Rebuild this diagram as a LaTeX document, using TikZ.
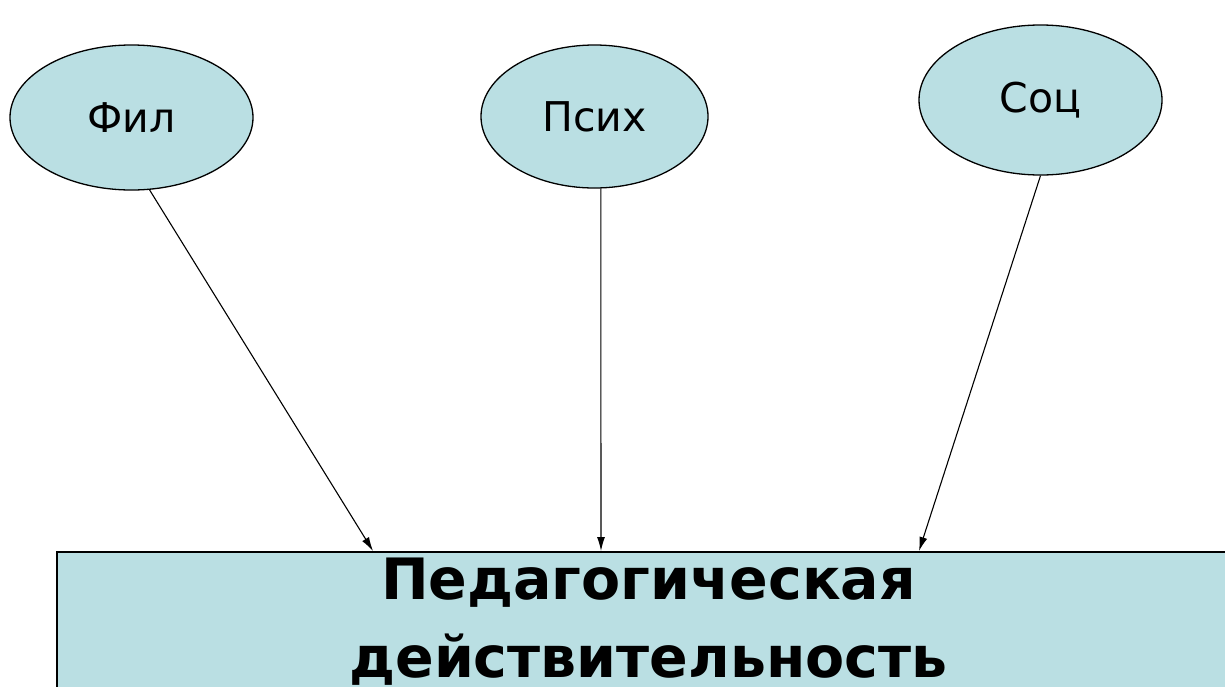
\documentclass[tikz,border=0pt]{standalone}
\usepackage{fontspec}
\setmainfont{DejaVu Sans}
\usetikzlibrary{shapes.geometric,arrows.meta}
\definecolor{azzurro}{RGB}{186,223,227}
\tikzset{
  bolla/.style={ellipse, draw, fill=azzurro, line width=1.3pt, font=\fontsize{41}{46}\selectfont},
  riquadro/.style={draw, fill=azzurro, line width=1.5pt, align=center, inner ysep=6pt,
    text depth=40pt, font=\fontsize{57}{78}\selectfont\bfseries},
  freccia/.style={-{Latex[length=14pt,width=8pt]}, line width=1.1pt},
}
\begin{document}
\begin{tikzpicture}[x=1pt,y=-1pt]
        \useasboundingbox (0,0) rectangle (1225,686);

        % Disegna le ellissi
        \node[bolla, minimum width=243pt, minimum height=145pt] (fil) at (131.5,117.5) {Фил};
        \node[bolla, minimum width=227pt, minimum height=143pt] (psih) at (594.5,116.5) {Псих};
        \node[bolla, minimum width=243pt, minimum height=150pt] (soc) at (1040.5,100) {Соц};

        % Disegna il riquadro
        \node[riquadro, anchor=north, minimum width=1183pt] (ped) at (648.5,551) {Педагогическая\\действительность};

        % Punti di arrivo
        \coordinate (a1) at (373,551);
        \coordinate (a2) at (601,551);
        \coordinate (a3) at (919,551);

        % Disegna le frecce
        \draw[freccia] (fil.-76) -- (a1);
        \draw[freccia] (psih.-85) -- (a2);
        \draw[freccia] (soc.south) -- (a3);
    \end{tikzpicture}
\end{document}
